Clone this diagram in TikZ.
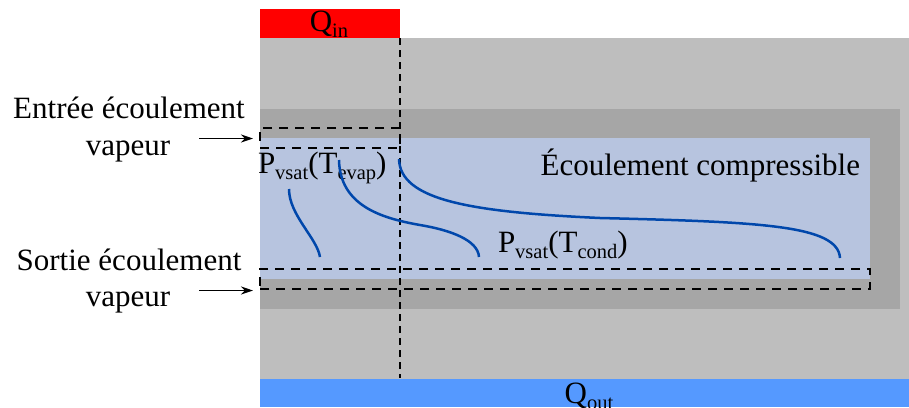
\documentclass[tikz,border=0pt]{standalone}
\usepackage{fontspec}
\setmainfont{Liberation Serif}
\newfontfamily\tnrfont{Liberation Serif}
\usetikzlibrary{arrows.meta}
\definecolor{lgray}{HTML}{BEBEBE}
\definecolor{dgray}{HTML}{A6A6A6}
\definecolor{lblue}{HTML}{B7C4DF}
\definecolor{qred}{HTML}{FF0000}
\definecolor{qblue}{HTML}{5599FF}
\definecolor{curveblue}{HTML}{0047AB}
\newcommand{\lowsub}[1]{\raisebox{-6.5pt}{\fontsize{20.5}{20.5}\selectfont #1}}
\begin{document}
\begin{tikzpicture}[x=1pt,y=-1pt,
  every node/.style={inner sep=0pt, outer sep=0pt, font=\tnrfont\fontsize{31}{37}\selectfont},
  boxdash/.style={draw=black, line width=2pt, dash pattern=on 9pt off 7pt},
  vdash/.style={draw=black, line width=1.2pt, dash pattern=on 7pt off 5pt},
  curve/.style={draw=curveblue, line width=2.5pt},
  flowarrow/.style={draw=black, line width=1.4pt, -{Stealth[length=12pt,width=8pt]}},
  lbl/.style={anchor=base}]
\useasboundingbox (0,0) rectangle (909,407);
% bands
\fill[lgray] (260,38) rectangle (909,379);
\fill[qred] (260,9) rectangle (400,38);
\fill[qblue] (260,379) rectangle (909,407);
\fill[dgray] (260,109) rectangle (900,309);
\fill[lblue] (260,138) rectangle (870,279);
% dashed boxes and divider
\node[boxdash, minimum width=140pt, minimum height=20pt] (inbox) at (330,138) {};
\node[boxdash, minimum width=610pt, minimum height=20pt] (outbox) at (565,279) {};
\coordinate (vtop) at (400,38);
\coordinate (vbot) at (400,378);
\draw[vdash] (vtop) -- (vbot);
% texts
\node[lbl] (qin) at (329,31) {Q\lowsub{in}};
\node[lbl] (qout) at (589,403) {Q\lowsub{out}};
\node[anchor=base west] (pevap) at (258,173) {P\lowsub{vsat}(T\lowsub{evap})};
\node[anchor=base west] (pcond) at (498,252) {P\lowsub{vsat}(T\lowsub{cond})};
\node[anchor=base east] (ecomp) at (860,175) {Écoulement compressible};
\node[lbl] (in1) at (129,118) {Entrée écoulement};
\node[lbl] (in2) at (128,155) {vapeur};
\node[lbl] (out1) at (129,270) {Sortie écoulement};
\node[lbl] (out2) at (128,306) {vapeur};
% arrows
\coordinate (inS) at (199,138.5);
\coordinate (inE) at (253,138.5);
\coordinate (outS) at (199,290.5);
\coordinate (outE) at (253,290.5);
\draw[flowarrow] (inS) -- (inE);
\draw[flowarrow] (outS) -- (outE);
% curves
\draw[curve] (289,189) .. controls (289,215) and (317,238) .. (320,257);
\draw[curve] (339,160) .. controls (340,205) and (380,218) .. (420,225)
  .. controls (450,230) and (478,240) .. (479,257);
\draw[curve] (399,159) .. controls (400,200) and (470,212) .. (600,218)
  .. controls (760,222) and (838,225) .. (840,258);
\end{tikzpicture}
\end{document}
